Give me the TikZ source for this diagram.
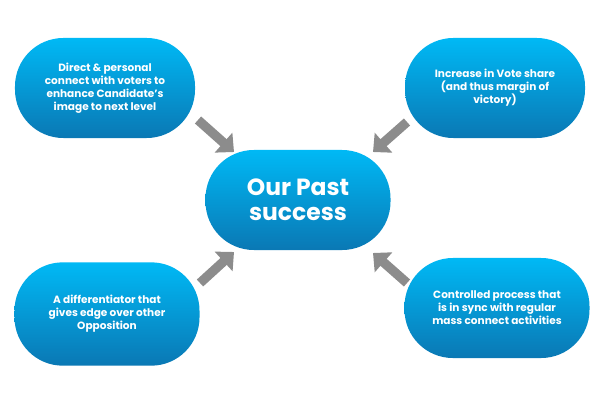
\documentclass[tikz,border=0pt]{standalone}
\usepackage{fontspec}
\setmainfont{Poppins}
\usetikzlibrary{arrows.meta}
\definecolor{pilltop}{HTML}{00B9F5}
\definecolor{pillbot}{HTML}{0A78B4}
\definecolor{arrowgray}{HTML}{8C8C8C}
\tikzset{
  pill/.style = {rounded corners=1.45cm, top color=pilltop, bottom color=pillbot,
    draw=none, text=white, font=\bfseries\fontsize{9}{11}\selectfont,
    align=center, inner sep=0pt},
  push/.style = {arrowgray, line width=8pt, -{Triangle[length=12pt, width=22pt]}}
}
\begin{document}
\begin{tikzpicture}[x=0.03cm, y=-0.03cm]
    \useasboundingbox (0, 0) rectangle (600, 400);
    % Centre
    \node[pill, minimum width=5.55cm, minimum height=3cm,
          font=\bfseries\fontsize{20}{21}\selectfont] (centre) at (298, 200) {Our Past\\success};

    % Surrounding points
    \node[pill, minimum width=5.4cm, minimum height=3cm] (tl) at (105, 88)
        {Direct \& personal\\connect with voters to\\enhance Candidate's\\image to next level};
    \node[pill, minimum width=5.4cm, minimum height=3cm] (tr) at (495, 88)
        {Increase in Vote share\\(and thus margin of\\victory)};
    \node[pill, minimum width=5.55cm, minimum height=3.1cm] (bl) at (107, 314)
        {A differentiator that\\gives edge over other\\Opposition};
    \node[pill, minimum width=5.55cm, minimum height=3cm] (br) at (497, 308)
        {Controlled process that\\is in sync with regular\\mass connect activities};

    % Arrows
    \coordinate (tlA) at (198, 120);
    \coordinate (tlB) at (234, 152);
    \coordinate (trA) at (407, 122);
    \coordinate (trB) at (373, 152);
    \coordinate (blA) at (200, 283);
    \coordinate (blB) at (234, 252);
    \coordinate (brA) at (407, 283);
    \coordinate (brB) at (373, 253);
    \draw[push] (tlA) -- (tlB);
    \draw[push] (trA) -- (trB);
    \draw[push] (blA) -- (blB);
    \draw[push] (brA) -- (brB);
\end{tikzpicture}
\end{document}
